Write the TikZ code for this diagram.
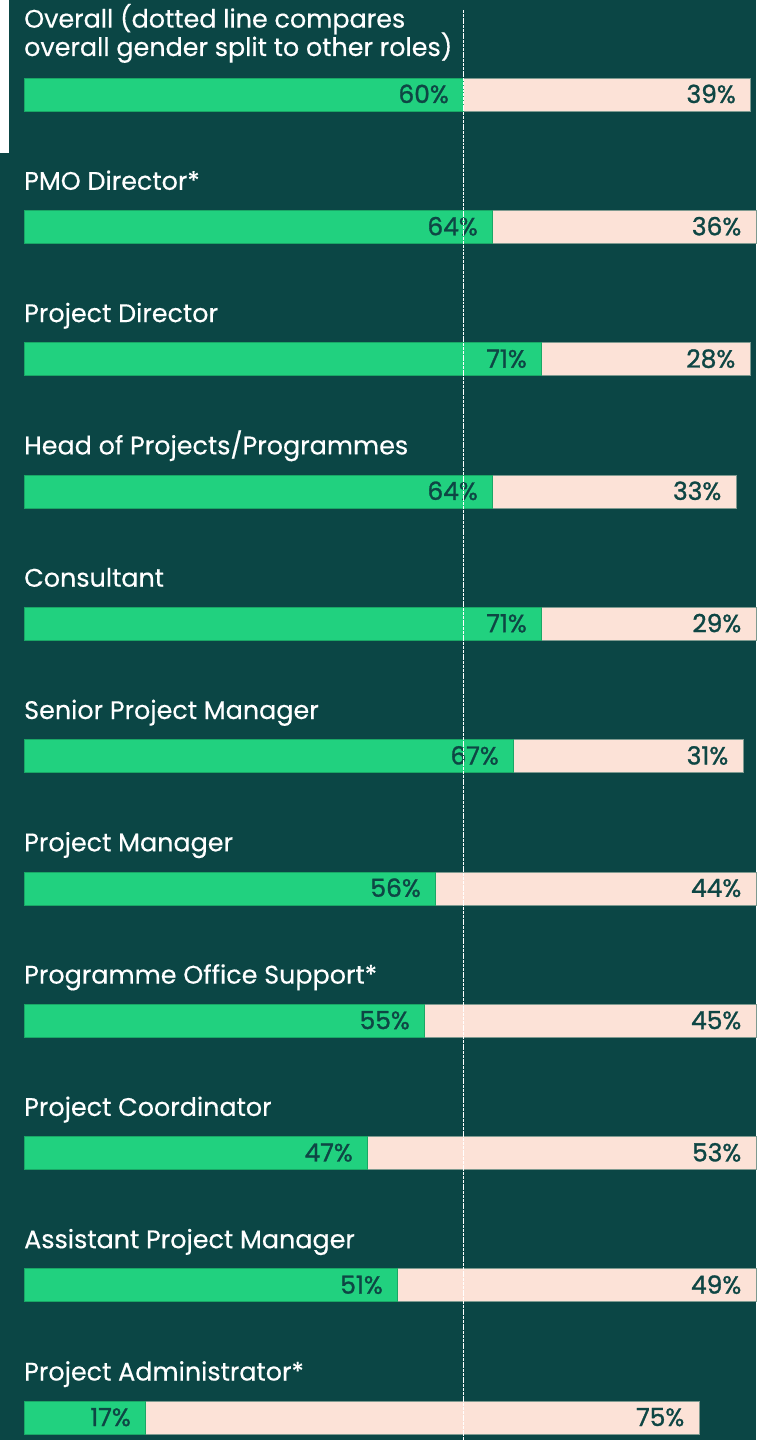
\documentclass[tikz,border=0pt]{standalone}
\usepackage{fontspec}
\setmainfont{Poppins}
\newfontfamily\lblfont[FakeBold=0.4]{Poppins}
\newfontfamily\pctfont[FakeBold=1.2]{Poppins}
\definecolor{bg}{HTML}{0B4645}
\definecolor{grn}{HTML}{21D17F}
\definecolor{pch}{HTML}{FCE2D7}
\definecolor{ink}{HTML}{0E4644}
\definecolor{edge}{HTML}{7F9A90}
\tikzset{
  lbl/.style={anchor=base west, text=white, font=\lblfont\fontsize{25.5}{27.5}\selectfont, inner sep=0pt, align=left},
  pct/.style={anchor=base east, text=ink, font=\pctfont\fontsize{25}{25}\selectfont, inner sep=0pt},
  gbar/.style={fill=grn, draw=grn!80!black, line width=0.5pt},
  pbar/.style={fill=pch, draw=edge, line width=0.5pt},
  refline/.style={draw=white, line width=0.8pt, dash pattern=on 3pt off 0.8pt}
}
\newcommand\barrow[7]{%
  \pgfmathsetmacro\yt{78+132.3*#1}
  \path[pbar] (#3,\yt) rectangle (#4,\yt+33);
  \path[gbar] (24,\yt) rectangle (#3,\yt+33);
  \node[lbl] (lab#1) at (24,\yt-20.5) {#2};
  \node[pct] (g#1) at (#3-14,\yt+25) {#5\%};
  \node[pct] (p#1) at (#4-14.5,\yt+25) {#6\%};
}
\begin{document}
\begin{tikzpicture}[x=1bp,y=-1bp]
\fill[bg] (0,0) rectangle (756,1440);
\useasboundingbox (0,0) rectangle (756,1440);
\fill[white] (0,0) rectangle (9,153);
% overall row
\path[pbar] (463,78) rectangle (750,111);
\path[gbar] (24,78) rectangle (463,111);
\node[lbl] (lab0) at (24,56) {Overall (dotted line compares\\[-3bp]overall gender split to other roles)};
\node[pct] (g0) at (449,103) {60\%};
\node[pct] (p0) at (736,103) {39\%};
\barrow{1}{PMO Director*}{492}{756}{64}{36}{}
\barrow{2}{Project Director}{541}{750}{71}{28}{}
\barrow{3}{Head of Projects/Programmes}{492}{736}{64}{33}{}
\barrow{4}{Consultant}{541}{756}{71}{29}{}
\barrow{5}{Senior Project Manager}{513}{743}{67}{31}{}
\barrow{6}{Project Manager}{435}{756}{56}{44}{}
\barrow{7}{Programme Office Support*}{424}{756}{55}{45}{}
\barrow{8}{Project Coordinator}{367}{756}{47}{53}{}
\barrow{9}{Assistant Project Manager}{397}{756}{51}{49}{}
\barrow{10}{Project Administrator*}{145}{699}{17}{75}{}
\coordinate (dtop) at (463,10);
\coordinate (dbot) at (463,1440);
\draw[refline] (dtop) -- (dbot);
\end{tikzpicture}
\end{document}
